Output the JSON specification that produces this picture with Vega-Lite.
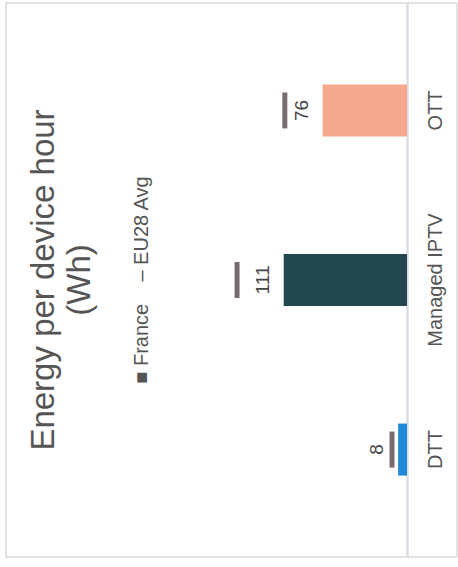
{
  "$schema": "https://vega.github.io/schema/vega-lite/v6.json",
  "width": 451,
  "height": 554,
  "autosize": {"type": "none"},
  "padding": {"left": 6, "top": 3, "right": 1, "bottom": 10},
  "background": "white",
  "config": {
    "view": {"stroke": "#dadada", "strokeWidth": 1.5},
    "font": "Liberation Sans"
  },
  "title": {
    "text": ["Energy per device hour", "(Wh)"],
    "subtitle": "■\u00a0France\u00a0\u00a0\u00a0\u00a0– EU28 Avg",
    "orient": "left",
    "anchor": "middle",
    "offset": -146,
    "font": "Liberation Sans",
    "fontSize": 33,
    "fontWeight": "normal",
    "color": "#555555",
    "lineHeight": 36,
    "subtitleFont": "Liberation Sans",
    "subtitleFontSize": 20,
    "subtitleColor": "#555555",
    "subtitlePadding": 35
  },
  "data": {
    "values": [
      {"cat": "OTT", "v": 76, "eu": 110},
      {"cat": "Managed IPTV", "v": 111, "eu": 153},
      {"cat": "DTT", "v": 8, "eu": 13.5}
    ]
  },
  "encoding": {
    "y": {
      "field": "cat",
      "type": "nominal",
      "sort": ["OTT", "Managed IPTV", "DTT"],
      "scale": {"paddingInner": 0.693, "paddingOuter": 0.48},
      "axis": {
        "orient": "right",
        "offset": -50,
        "title": null,
        "ticks": false,
        "tickSize": 0,
        "domainColor": "#dcdce6",
        "domainWidth": 2.5,
        "labelAngle": 270,
        "labelAlign": "center",
        "labelBaseline": "middle",
        "labelPadding": 28,
        "labelFont": "Liberation Sans",
        "labelFontSize": 20,
        "labelColor": "#555555"
      }
    }
  },
  "layer": [
    {
      "mark": {"type": "bar"},
      "encoding": {
        "x": {
          "field": "v",
          "type": "quantitative",
          "scale": {"domain": [-45, 361], "reverse": true, "nice": false, "zero": false},
          "axis": null
        },
        "x2": {"datum": 0},
        "color": {
          "field": "cat",
          "type": "nominal",
          "scale": {"domain": ["OTT", "Managed IPTV", "DTT"], "range": ["#f4a88e", "#22474f", "#1f88d8"]},
          "legend": null
        }
      }
    },
    {
      "mark": {"type": "tick", "size": 36, "thickness": 5, "color": "#7b6b6e", "opacity": 1},
      "encoding": {
        "x": {"field": "eu", "type": "quantitative"}
      }
    },
    {
      "mark": {"type": "text", "angle": 270, "align": "center", "baseline": "middle", "dy": -21, "fontSize": 19, "color": "#444444", "font": "Liberation Sans"},
      "encoding": {
        "x": {"field": "v", "type": "quantitative"},
        "text": {"field": "v", "type": "quantitative"}
      }
    }
  ]
}
